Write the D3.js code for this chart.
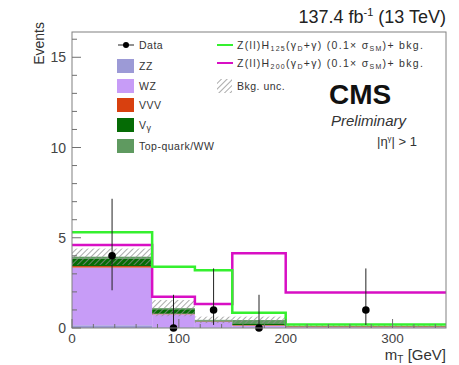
<!DOCTYPE html>
<html>
<head>
<meta charset="utf-8">
<script src="https://cdn.jsdelivr.net/npm/d3@7"></script>
<style>
  body { margin: 0; background: #fff; }
  svg { font-family: "Liberation Sans", Arial, Helvetica, sans-serif; }
</style>
</head>
<body>
<div id="chart"></div>
<script>
// bin edges in mT [GeV]
const binEdges = [0, 75, 115, 150, 200, 350];

// background components (stacked, bottom to top)
const bkgNames = ["ZZ", "WZ", "VVV", "Vγ", "Top-quark/WW"];
const zz    = [0.15, 0.04, 0.03, 0.03, 0.02];
const wz    = [3.20, 0.72, 0.32, 0.10, 0.03];
const vvv   = [0.08, 0.03, 0.02, 0.03, 0.04];
const vgam  = [0.40, 0.25, 0.04, 0.10, 0.01];
const topww = [0.12, 0.06, 0.04, 0.18, 0.01];
const bkgUnc = [0.45, 0.45, 0.18, 0.19, 0.05];

// signal + bkg
const sigH125 = [5.3, 3.4, 3.2, 0.85, 0.2];
const sigH200 = [4.6, 1.73, 1.33, 4.14, 1.96];

// data
const dataN    = [4, 0, 1, 0, 1];
const dataErrLo = [1.91, 0, 0.83, 0, 0.83];
const dataErrHi = [3.16, 1.84, 2.30, 1.84, 2.30];

const yTicks = [0, 5, 10, 15];
const xTicks = [0, 100, 200, 300];

const colors = {
  "ZZ": "#9c9ad6",
  "WZ": "#c79cf7",
  "VVV": "#d8400f",
  "Vγ": "#056b05",
  "Top-quark/WW": "#5f9a60"
};
const colH125 = "#35f02f";
const colH200 = "#d80fc4";

const W = 459, H = 365;
const margin = {top: 32, right: 13, bottom: 37, left: 72};
const width = W - margin.left - margin.right;
const height = H - margin.top - margin.bottom;

const svg = d3.select("#chart").append("svg")
  .attr("width", W).attr("height", H);

const defs = svg.append("defs");
const pat = defs.append("pattern")
  .attr("id", "hatch").attr("patternUnits", "userSpaceOnUse")
  .attr("width", 4).attr("height", 4)
  .attr("patternTransform", "rotate(45)");
pat.append("line").attr("x1", 0).attr("y1", 0).attr("x2", 0).attr("y2", 4)
  .attr("stroke", "#8f8f8f").attr("stroke-width", 1.5);

const x = d3.scaleLinear().domain([0, 350]).range([0, width]);
const y = d3.scaleLinear().domain([0, 16.4]).range([height, 0]);

const g = svg.append("g").attr("transform", `translate(${margin.left},${margin.top})`);

// stacked background
const bins = binEdges.slice(0, -1).map((lo, i) => ({
  lo: lo, hi: binEdges[i + 1],
  "ZZ": zz[i], "WZ": wz[i], "VVV": vvv[i], "Vγ": vgam[i], "Top-quark/WW": topww[i]
}));
const stack = d3.stack().keys(bkgNames)(bins);

g.selectAll(".layer").data(stack).enter().append("g")
  .attr("fill", d => colors[d.key])
  .selectAll("rect").data(d => d).enter().append("rect")
  .attr("x", d => x(d.data.lo))
  .attr("width", d => x(d.data.hi) - x(d.data.lo))
  .attr("y", d => y(d[1]))
  .attr("height", d => y(d[0]) - y(d[1]));

// uncertainty band
const totals = bins.map((b, i) => zz[i] + wz[i] + vvv[i] + vgam[i] + topww[i]);
g.selectAll(".unc").data(bins).enter().append("rect")
  .attr("fill", "url(#hatch)")
  .attr("x", d => x(d.lo))
  .attr("width", d => x(d.hi) - x(d.lo))
  .attr("y", (d, i) => y(totals[i] + bkgUnc[i]))
  .attr("height", (d, i) => y(totals[i] - bkgUnc[i]) - y(totals[i] + bkgUnc[i]));

// signal step lines
function stepPath(vals) {
  let p = "";
  vals.forEach((v, i) => {
    p += (i === 0 ? "M" : "L") + x(binEdges[i]) + "," + y(v);
    p += "L" + x(binEdges[i + 1]) + "," + y(v);
  });
  return p;
}
g.append("path").attr("d", stepPath(sigH200)).attr("fill", "none")
  .attr("stroke", colH200).attr("stroke-width", 2.5);
g.append("path").attr("d", stepPath(sigH125)).attr("fill", "none")
  .attr("stroke", colH125).attr("stroke-width", 2.5);

// data points
const centers = bins.map(b => (b.lo + b.hi) / 2);
dataN.forEach((n, i) => {
  g.append("line")
    .attr("x1", x(centers[i])).attr("x2", x(centers[i]))
    .attr("y1", y(n - dataErrLo[i])).attr("y2", y(n + dataErrHi[i]))
    .attr("stroke", "#222").attr("stroke-width", 1);
  g.append("circle").attr("cx", x(centers[i])).attr("cy", y(n))
    .attr("r", 3.8).attr("fill", "#000");
});

// frame
g.append("rect").attr("width", width).attr("height", height)
  .attr("fill", "none").attr("stroke", "#808080").attr("stroke-width", 1);

// y ticks (inside)
const tickCol = "#707070";
d3.range(0, 17, 1).forEach(v => {
  const major = v % 5 === 0;
  g.append("line").attr("x1", 0).attr("x2", major ? 9 : 5)
    .attr("y1", y(v)).attr("y2", y(v)).attr("stroke", tickCol);
});
yTicks.forEach(v => {
  g.append("text").attr("x", -6).attr("y", y(v)).attr("dy", "0.36em")
    .attr("text-anchor", "end").attr("font-size", 14).attr("fill", "#444")
    .text(v);
});

// x ticks (inside)
d3.range(0, 351, 20).forEach(v => {
  const major = v % 100 === 0;
  g.append("line").attr("y1", height).attr("y2", height - (major ? 9 : 4))
    .attr("x1", x(v)).attr("x2", x(v)).attr("stroke", tickCol);
});
xTicks.forEach(v => {
  g.append("text").attr("x", x(v)).attr("y", height + 15)
    .attr("text-anchor", "middle").attr("font-size", 13.5).attr("fill", "#444")
    .text(v);
});

// axis titles
svg.append("text").attr("transform", "translate(44,22) rotate(-90)")
  .attr("text-anchor", "end").attr("font-size", 14).attr("fill", "#333")
  .text("Events");
const xl = svg.append("text").attr("x", 446).attr("y", 360)
  .attr("text-anchor", "end").attr("font-size", 15).attr("fill", "#333");
xl.append("tspan").text("m");
xl.append("tspan").attr("font-size", 10).attr("dy", 3).text("T");
xl.append("tspan").attr("dy", -3).text(" [GeV]");

// top label
const tl = svg.append("text").attr("x", 446).attr("y", 23)
  .attr("text-anchor", "end").attr("font-size", 18).attr("fill", "#222");
tl.append("tspan").text("137.4 fb");
tl.append("tspan").attr("font-size", 11).attr("dy", -7).text("-1");
tl.append("tspan").attr("dy", 7).text(" (13 TeV)");

// CMS labels
svg.append("text").attr("x", 329).attr("y", 104).attr("font-size", 28)
  .attr("font-weight", "bold").attr("fill", "#111").text("CMS");
svg.append("text").attr("x", 331).attr("y", 126).attr("font-size", 15)
  .attr("font-style", "italic").attr("fill", "#333").text("Preliminary");
const eta = svg.append("text").attr("x", 377).attr("y", 146).attr("font-size", 13).attr("fill", "#333");
eta.append("tspan").text("|η");
eta.append("tspan").attr("font-size", 8).attr("dy", -5).text("γ");
eta.append("tspan").attr("dy", 5).text("| > 1");

// legend, left column
const leg = svg.append("g").attr("font-size", 10.5).attr("letter-spacing", 0.5).attr("fill", "#333");
leg.append("line").attr("x1", 118).attr("x2", 134).attr("y1", 45).attr("y2", 45)
  .attr("stroke", "#222");
leg.append("circle").attr("cx", 126).attr("cy", 45).attr("r", 3).attr("fill", "#000");
leg.append("text").attr("x", 139).attr("y", 45).attr("dy", "0.35em").text("Data");
const legRows = [66, 86, 105, 125, 146];
bkgNames.forEach((k, i) => {
  leg.append("rect").attr("x", 117).attr("y", legRows[i] - 7)
    .attr("width", 17).attr("height", 14).attr("fill", colors[k]);
  const t = leg.append("text").attr("x", 139).attr("y", legRows[i]).attr("dy", "0.35em");
  if (k === "Vγ") {
    t.append("tspan").text("V");
    t.append("tspan").attr("font-size", 9).attr("dy", 2).text("γ");
  } else {
    t.text(k);
  }
});

// legend, right column
function sigLabel(yy, mass) {
  const t = leg.append("text").attr("x", 237).attr("y", yy).attr("dy", "0.35em")
    .attr("font-size", 10.5).attr("letter-spacing", 1.3);
  t.append("tspan").text("Z(ll)H");
  t.append("tspan").attr("font-size", 7).attr("dy", 2).text(mass);
  t.append("tspan").attr("dy", -2).text("(γ");
  t.append("tspan").attr("font-size", 7).attr("dy", 2).text("D");
  t.append("tspan").attr("dy", -2).text("+γ) (0.1× σ");
  t.append("tspan").attr("font-size", 7).attr("dy", 2).text("SM");
  t.append("tspan").attr("dy", -2).text(")+ bkg.");
}
leg.append("line").attr("x1", 217).attr("x2", 233).attr("y1", 45).attr("y2", 45)
  .attr("stroke", colH125).attr("stroke-width", 2);
sigLabel(45, "125");
leg.append("line").attr("x1", 217).attr("x2", 233).attr("y1", 63).attr("y2", 63)
  .attr("stroke", colH200).attr("stroke-width", 2);
sigLabel(63, "200");
leg.append("rect").attr("x", 217).attr("y", 79).attr("width", 15).attr("height", 14)
  .attr("fill", "url(#hatch)");
leg.append("text").attr("x", 237).attr("y", 86).attr("dy", "0.35em").text("Bkg. unc.");
</script>
</body>
</html>
